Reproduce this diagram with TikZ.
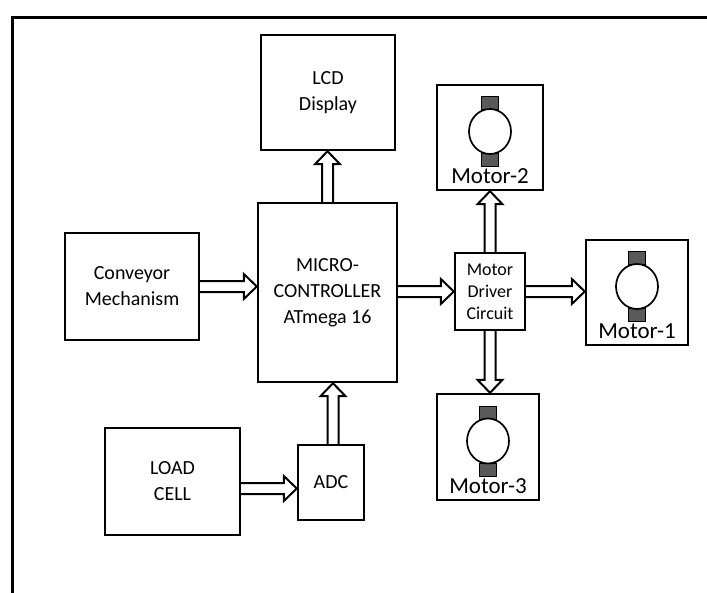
\documentclass[tikz,border=0pt]{standalone}
\usepackage{fontspec}
\setmainfont{Carlito}
\usepackage{tikz}
\usetikzlibrary{calc, positioning}

% hollow block arrow from #1 to #2
\newcommand{\flowarrow}[2]{%
  \path (#1) coordinate (fa-s) (#2) coordinate (fa-e);
  \coordinate (fa-h) at ($(fa-e)!13pt!(fa-s)$);
  \draw[flow] ($(fa-s)!5.5pt!90:(fa-e)$) -- ($(fa-h)!5.5pt!90:(fa-e)$)
    -- ($(fa-h)!12.5pt!90:(fa-e)$) -- (fa-e) -- ($(fa-h)!12.5pt!-90:(fa-e)$)
    -- ($(fa-h)!5.5pt!-90:(fa-e)$) -- ($(fa-s)!5.5pt!-90:(fa-e)$);
}
% dc motor symbol inside a motor box
\newcommand{\motoricon}[1]{%
  \draw[brush] ($(#1)+(-8.5,-41)$) rectangle ($(#1)+(8.5,-28)$);
  \draw[brush] ($(#1)+(-8.5,16)$) rectangle ($(#1)+(8.5,29)$);
  \draw[line width=1.7pt, fill=white] ($(#1)+(0,-6)$) ellipse (21pt and 22.5pt);
}

\begin{document}
\begin{tikzpicture}[x=1pt, y=-1pt,
    block/.style={draw, line width=2.4pt, align=center, inner sep=2pt,
                  font=\fontsize{20}{26}\selectfont},
    flow/.style={line width=2pt, line join=miter},
    brush/.style={fill=black!65, draw=black, line width=0.9pt},
    motortext/.style={font=\fontsize{23}{26}\selectfont, inner sep=1pt}]
  \useasboundingbox (0,0) rectangle (707,592);
  \draw[line width=3pt] (12,600) -- (12,17) -- (720,17);

  \node[block, minimum width=139pt, minimum height=179pt] (mcu) at (327.5,292.5)
        {MICRO-\\CONTROLLER\\ATmega 16};
  \node[block, minimum width=134pt, minimum height=115pt] (lcd) at (328,92.5)
        {LCD\\Display};
  \node[block, minimum width=134pt, minimum height=107pt] (conv) at (132,286.5)
        {Conveyor\\Mechanism};
  \node[block, minimum width=135pt, minimum height=107pt] (load) at (172.5,481.5)
        {LOAD\\CELL};
  \node[block, minimum width=66pt, minimum height=75pt] (adc) at (331,482.5) {ADC};
  \node[block, minimum width=70pt, minimum height=77pt,
        font=\fontsize{18}{22}\selectfont] (drv) at (490,291.5)
        {Motor\\Driver\\Circuit};

  \node[block, minimum width=102pt, minimum height=105pt] (m1) at (637,292.5) {};
  \node[block, minimum width=106pt, minimum height=105pt] (m2) at (490,137.5) {};
  \node[block, minimum width=102pt, minimum height=106pt] (m3) at (488,447) {};
  \motoricon{m1}
  \motoricon{m2}
  \motoricon{m3}
  \node[motortext, above, yshift=6pt] (m1t) at (m1.south) {Motor-1};
  \node[motortext, above, yshift=6pt] (m2t) at (m2.south) {Motor-2};
  \node[motortext, above, yshift=6pt] (m3t) at (m3.south) {Motor-3};

  \flowarrow{conv.east}{mcu.west |- conv.east}
  \flowarrow{mcu.east |- drv.west}{drv.west}
  \flowarrow{drv.east}{m1.west |- drv.east}
  \flowarrow{drv.north}{m2.south}
  \flowarrow{drv.south}{drv.south |- m3.north}
  \flowarrow{mcu.north}{mcu.north |- lcd.south}
  \flowarrow{[xshift=2pt]adc.north}{[xshift=2pt]adc.north |- mcu.south}
  \flowarrow{[yshift=-7pt]load.east}{[yshift=-7pt]load.east -| adc.west}
\end{tikzpicture}
\end{document}
